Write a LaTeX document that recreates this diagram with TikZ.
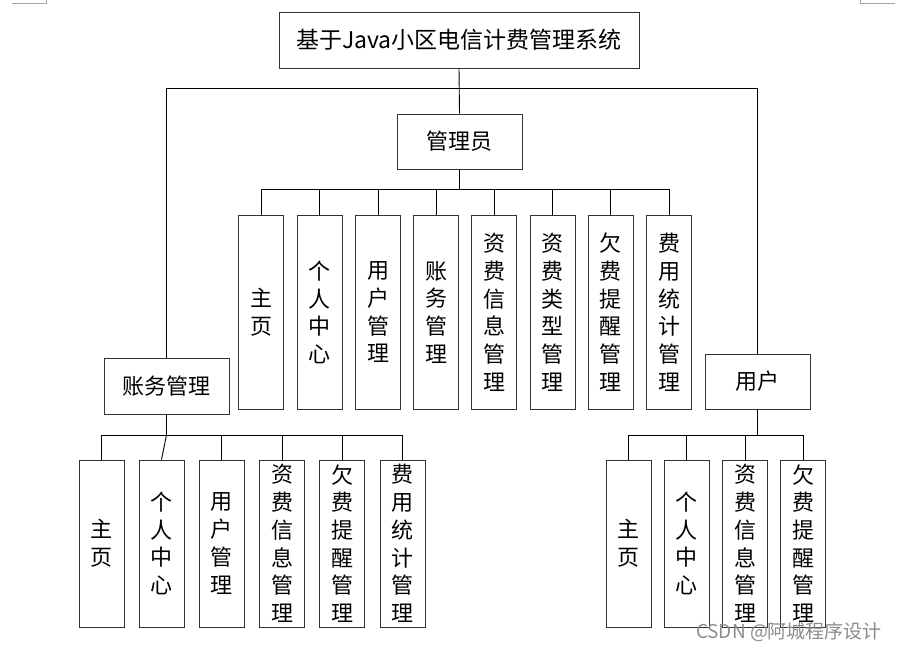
\documentclass[tikz,border=0pt]{standalone}
\usepackage{fontspec}
\setmainfont{Noto Sans CJK SC}
\begin{document}
\begin{tikzpicture}[x=1pt,y=-1pt,
  box/.style={draw=black!80, line width=0.9pt, fill=white, inner sep=0pt,
    font=\fontsize{22}{27.7}\selectfont, align=center},
  hbox/.style={box},
  vbox/.style={box, minimum width=45pt, minimum height=194pt},
  lbox/.style={box, minimum width=45pt, minimum height=167pt},
  link/.style={draw=black, line width=0.9pt},
  trunk/.style={draw=black, line width=1.8pt},
  cornermark/.style={draw=black!35, line width=0.6pt}]
\fill[white] (0,0) rectangle (901,650);
\useasboundingbox (0,0) rectangle (901,650);
% corner marks
\draw[cornermark] (12,3.5) -- (46,3.5) -- (46,0);
\draw[cornermark] (860,0) -- (860,3.5) -- (895,3.5);
% top
\node[hbox, minimum width=360pt, minimum height=56pt, font=\fontsize{23}{27.7}\selectfont] (top) at (459,40) {基于Java小区电信计费管理系统};
\node[hbox, minimum width=125pt, minimum height=55pt] (admin) at (459.5,141.5) {管理员};
\node[hbox, minimum width=125pt, minimum height=56pt] (acct) at (166.5,386) {账务管理};
\node[hbox, minimum width=105pt, minimum height=55pt] (user) at (757.5,381.5) {用户};
\coordinate (tj) at (459.5,88);
\draw[link] (top.south) -- (admin.north);
\draw[link] (tj) -| (acct.north);
\draw[link] (tj) -| (user.north);
% admin children
\node[vbox] (a1) at (261.2,312.3) {主\\页};
\node[vbox] (a2) at (319.5,312.3) {个\\人\\中\\心};
\node[vbox] (a3) at (378,312.3) {用\\户\\管\\理};
\node[vbox] (a4) at (436,312.3) {账\\务\\管\\理};
\node[vbox] (a5) at (494.3,312.3) {资\\费\\信\\息\\管\\理};
\node[vbox] (a6) at (552.5,312.3) {资\\费\\类\\型\\管\\理};
\node[vbox] (a7) at (610.8,312.3) {欠\\费\\提\\醒\\管\\理};
\node[vbox] (a8) at (669,312.3) {费\\用\\统\\计\\管\\理};
\coordinate (ab) at (459.5,189.5);
\draw[trunk] (admin.south) -- (ab);
\foreach \i in {1,...,8} { \draw[link] (ab) -| (a\i.north); }
% account children
\node[lbox] (l1) at (101.5,543.5) {主\\页};
\node[lbox] (l2) at (161.5,543.5) {个\\人\\中\\心};
\node[lbox] (l3) at (221.5,543.5) {用\\户\\管\\理};
\node[lbox] (l4) at (282,543.5) {资\\费\\信\\息\\管\\理};
\node[lbox] (l5) at (342,543.5) {欠\\费\\提\\醒\\管\\理};
\node[lbox] (l6) at (402.5,543.5) {费\\用\\统\\计\\管\\理};
\coordinate (lb) at (166.5,435);
\draw[trunk] (acct.south) -- (lb);
\draw[link] (lb) -| (l1.north);
\draw[link] (lb) -- (l2.north);
\foreach \i in {3,...,6} { \draw[link] (lb) -| (l\i.north); }
% user children
\node[lbox] (u1) at (628.5,543.5) {主\\页};
\node[lbox] (u2) at (686.5,543.5) {个\\人\\中\\心};
\node[lbox] (u3) at (745,543.5) {资\\费\\信\\息\\管\\理};
\node[lbox] (u4) at (803,543.5) {欠\\费\\提\\醒\\管\\理};
\coordinate (ub) at (757.5,435);
\draw[trunk] (user.south) -- (ub);
\foreach \i in {1,...,4} { \draw[link] (ub) -| (u\i.north); }
% watermark
\node[text=black!45, font=\fontsize{19}{22}\selectfont, inner sep=0pt] (wm) at (789,632) {CSDN @阿城程序设计};
\end{tikzpicture}
\end{document}
